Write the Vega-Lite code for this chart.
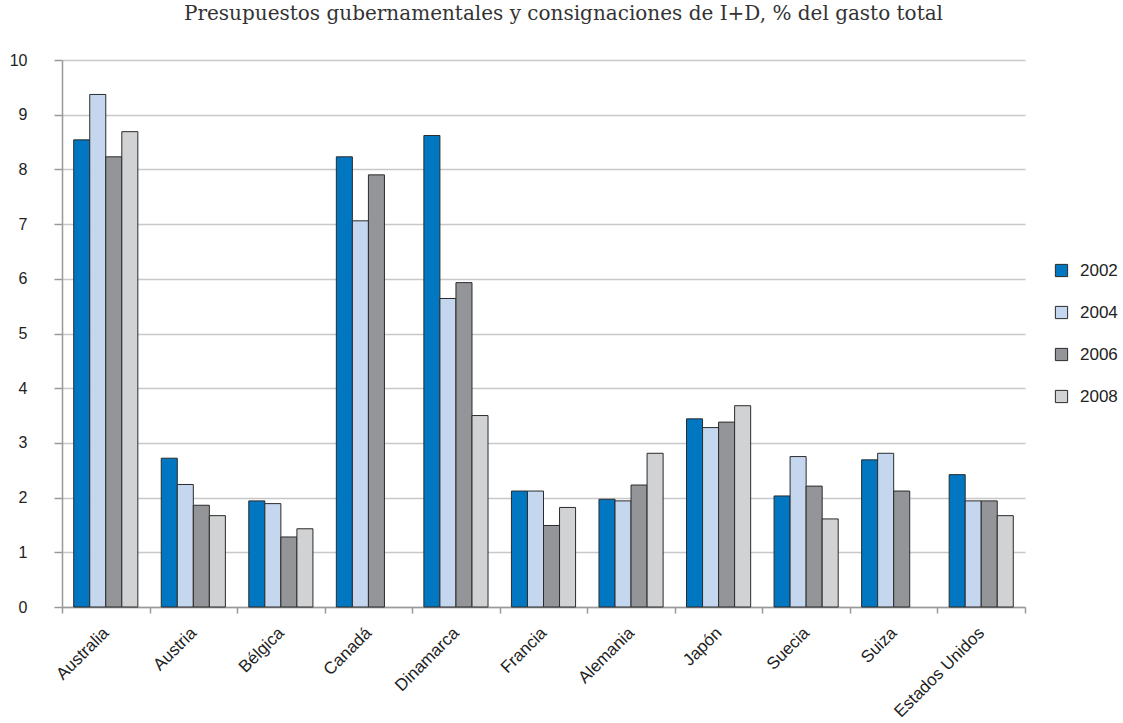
{
  "$schema": "https://vega.github.io/schema/vega-lite/v6.json",
  "autosize": "none",
  "width": 963,
  "height": 547,
  "padding": {"left": 62, "top": 60, "right": 98, "bottom": 116},
  "background": "white",
  "title": {
    "text": "Presupuestos gubernamentales y consignaciones de I+D, % del gasto total",
    "font": "DejaVu Serif",
    "fontSize": 20,
    "fontWeight": "normal",
    "color": "#333333",
    "anchor": "middle",
    "dx": 20,
    "offset": 28
  },
  "data": {
    "values": [
      {"pais": "Australia", "anio": "2002", "valor": 8.54},
      {"pais": "Australia", "anio": "2004", "valor": 9.37},
      {"pais": "Australia", "anio": "2006", "valor": 8.23},
      {"pais": "Australia", "anio": "2008", "valor": 8.69},
      {"pais": "Austria", "anio": "2002", "valor": 2.72},
      {"pais": "Austria", "anio": "2004", "valor": 2.24},
      {"pais": "Austria", "anio": "2006", "valor": 1.86},
      {"pais": "Austria", "anio": "2008", "valor": 1.67},
      {"pais": "Bélgica", "anio": "2002", "valor": 1.94},
      {"pais": "Bélgica", "anio": "2004", "valor": 1.89},
      {"pais": "Bélgica", "anio": "2006", "valor": 1.28},
      {"pais": "Bélgica", "anio": "2008", "valor": 1.43},
      {"pais": "Canadá", "anio": "2002", "valor": 8.23},
      {"pais": "Canadá", "anio": "2004", "valor": 7.06},
      {"pais": "Canadá", "anio": "2006", "valor": 7.9},
      {"pais": "Dinamarca", "anio": "2002", "valor": 8.62},
      {"pais": "Dinamarca", "anio": "2004", "valor": 5.64},
      {"pais": "Dinamarca", "anio": "2006", "valor": 5.93},
      {"pais": "Dinamarca", "anio": "2008", "valor": 3.5},
      {"pais": "Francia", "anio": "2002", "valor": 2.12},
      {"pais": "Francia", "anio": "2004", "valor": 2.12},
      {"pais": "Francia", "anio": "2006", "valor": 1.49},
      {"pais": "Francia", "anio": "2008", "valor": 1.82},
      {"pais": "Alemania", "anio": "2002", "valor": 1.97},
      {"pais": "Alemania", "anio": "2004", "valor": 1.94},
      {"pais": "Alemania", "anio": "2006", "valor": 2.23},
      {"pais": "Alemania", "anio": "2008", "valor": 2.81},
      {"pais": "Japón", "anio": "2002", "valor": 3.44},
      {"pais": "Japón", "anio": "2004", "valor": 3.28},
      {"pais": "Japón", "anio": "2006", "valor": 3.38},
      {"pais": "Japón", "anio": "2008", "valor": 3.68},
      {"pais": "Suecia", "anio": "2002", "valor": 2.03},
      {"pais": "Suecia", "anio": "2004", "valor": 2.75},
      {"pais": "Suecia", "anio": "2006", "valor": 2.21},
      {"pais": "Suecia", "anio": "2008", "valor": 1.61},
      {"pais": "Suiza", "anio": "2002", "valor": 2.69},
      {"pais": "Suiza", "anio": "2004", "valor": 2.81},
      {"pais": "Suiza", "anio": "2006", "valor": 2.12},
      {"pais": "Estados Unidos", "anio": "2002", "valor": 2.42},
      {"pais": "Estados Unidos", "anio": "2004", "valor": 1.94},
      {"pais": "Estados Unidos", "anio": "2006", "valor": 1.94},
      {"pais": "Estados Unidos", "anio": "2008", "valor": 1.67}
    ]
  },
  "mark": {"type": "bar", "stroke": "#2b2b2b", "strokeWidth": 1},
  "encoding": {
    "x": {
      "field": "pais",
      "type": "nominal",
      "sort": ["Australia", "Austria", "Bélgica", "Canadá", "Dinamarca", "Francia", "Alemania", "Japón", "Suecia", "Suiza", "Estados Unidos"],
      "scale": {"paddingInner": 0, "paddingOuter": 0},
      "axis": {
        "title": null,
        "labelAngle": -45,
        "labelAlign": "right",
        "labelBaseline": "middle",
        "labelFont": "Liberation Sans, Arial, sans-serif",
        "labelFontSize": 17,
        "labelColor": "#222222",
        "labelPadding": 17,
        "labelDx": -7,
        "tickBand": "extent",
        "tickSize": 6,
        "tickColor": "#999999",
        "tickWidth": 1.5,
        "domainColor": "#999999",
        "domainWidth": 1.5,
        "grid": false
      }
    },
    "xOffset": {
      "field": "anio",
      "type": "nominal",
      "scale": {"domain": ["2002", "2004", "2006", "2008"], "paddingInner": 0, "paddingOuter": 0.73}
    },
    "y": {
      "field": "valor",
      "type": "quantitative",
      "scale": {"domain": [0, 10], "nice": false},
      "axis": {
        "title": null,
        "values": [0, 1, 2, 3, 4, 5, 6, 7, 8, 9, 10],
        "labelFont": "Liberation Sans, Arial, sans-serif",
        "labelFontSize": 16,
        "labelColor": "#222222",
        "labelPadding": 27,
        "tickSize": 8,
        "tickColor": "#999999",
        "tickWidth": 1.5,
        "domainColor": "#999999",
        "domainWidth": 1.5,
        "grid": true,
        "gridColor": "#c8c8c8",
        "gridWidth": 1.5
      }
    },
    "fill": {
      "field": "anio",
      "type": "nominal",
      "scale": {"domain": ["2002", "2004", "2006", "2008"], "range": ["#0077c0", "#c5d7ee", "#939598", "#d1d2d4"]},
      "legend": {
        "title": null,
        "orient": "none",
        "legendX": 991,
        "legendY": 202,
        "symbolType": "square",
        "symbolSize": 150,
        "symbolStrokeColor": "#2b2b2b",
        "symbolStrokeWidth": 1,
        "labelFont": "Liberation Sans, Arial, sans-serif",
        "labelFontSize": 17,
        "labelColor": "#222222",
        "labelOffset": 10,
        "rowPadding": 24
      }
    }
  },
  "config": {"view": {"stroke": null}}
}
